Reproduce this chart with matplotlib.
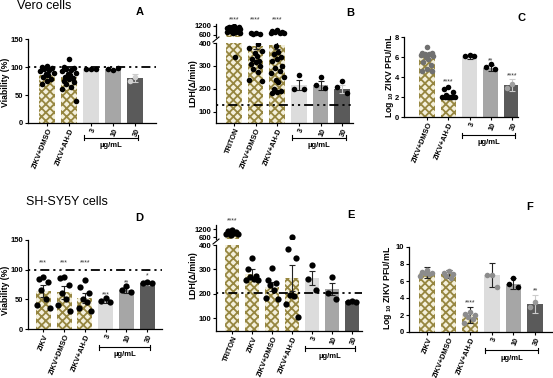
import matplotlib.pyplot as plt
from matplotlib import transforms

plt.rcParams['font.family'] = ['Liberation Sans', 'DejaVu Sans']
plt.rcParams['hatch.linewidth'] = 1.3
plt.rcParams['mathtext.default'] = 'regular'

W, H = 553, 378
OLIVE = '#968640'
GREYS = {'g1': '#dcdcdc', 'g2': '#a6a6a6', 'g3': '#5a5a5a'}

# ---- panel A: Vero viability
a_labels = ['ZIKV+DMSO', 'ZIKV+AH-D', '3', '10', '30']
a_kinds = ['h', 'h', 'g1', 'g2', 'g3']
a_means = [86, 83, 95, 96, 81]
a_sem = [3, 5, 1, 1, 7]
a_pts = [[102, 100, 98, 97, 95, 92, 90, 88, 85, 82, 78, 75, 70],
         [115, 100, 98, 97, 95, 93, 90, 88, 85, 82, 80, 78, 75, 73, 70, 65, 60, 40],
         [97, 96, 97], [95, 97, 98], [82, 75]]
a_ptcol = ['k', 'k', 'k', 'k', '#d0d0d0']

# ---- panel B: Vero LDH
b_labels = ['TRITON', 'ZIKV+DMSO', 'ZIKV+AH-D', '3', '10', '30']
b_kinds = ['h', 'h', 'h', 'g1', 'g2', 'g3']
b_means = [1000, 388, 390, 215, 215, 200]
b_sem = [0, 15, 18, 22, 18, 16]
b_pts = [[1150, 1120, 1100, 1080, 1050, 1020, 1000, 980, 950, 920, 900, 870,
          850, 820, 800, 780, 750, 720, 700, 340],
         [700, 680, 650, 660, 395, 380, 365, 355, 345, 330, 320, 318, 310, 300,
          285, 275, 240, 235],
         [900, 850, 800, 760, 720, 700, 680, 385, 360, 350, 340, 330, 320, 300,
          290, 280, 270, 250, 240, 230, 200, 190, 185, 180],
         [260, 200, 200], [250, 215, 205], [235, 210, 180]]
b_ptcol = ['k'] * 6
b_stars = {0: '****', 1: '****', 2: '****'}
b_line = 130

# ---- panel C: Vero titre
c_labels = ['ZIKV+DMSO', 'ZIKV+AH-D', '3', '10', '30']
c_kinds = ['h', 'h', 'g1', 'g2', 'g3']
c_means = [6.3, 2.0, 6.0, 4.9, 3.2]
c_sem = [0.15, 0.1, 0.15, 0.3, 0.6]
c_pts = [[7.0, 6.4, 6.4, 6.3, 6.3, 6.2, 6.1, 6.0, 5.8, 5.5, 5.2, 4.8, 4.6, 4.6],
         [3.0, 2.8, 2.5, 2.2, 2.0, 2.0, 2.0, 2.0, 2.0, 2.0, 2.0, 2.0],
         [6.2, 6.1, 6.1], [5.3, 5.0, 4.8], [3.3, 2.9]]
c_ptcol = ['#707070', 'k', 'k', 'k', '#a0a0a0']
c_stars = {1: ('****', 3.5), 3: ('**', 5.6), 4: ('****', 4.1)}

# ---- panel D: SH-SY5Y viability
d_labels = ['ZIKV', 'ZIKV+DMSO', 'ZIKV+AH-D', '3', '10', '30']
d_kinds = ['h', 'h', 'h', 'g1', 'g2', 'g3']
d_means = [64, 62, 52, 47, 65, 77]
d_sem = [10, 11, 9, 4, 5, 2]
d_pts = [[88, 85, 80, 65, 50, 40, 35], [88, 86, 75, 60, 50, 40, 30],
         [82, 70, 60, 50, 45, 35, 30], [52, 48, 45], [72, 65, 62], [80, 78, 77]]
d_ptcol = ['k'] * 6
d_stars = {0: ('***', 112), 1: ('***', 112), 2: ('****', 112),
           3: ('***', 57), 4: ('**', 78), 5: ('*', 89)}

# ---- panel E: SH-SY5Y LDH
e_labels = ['TRITON', 'ZIKV', 'ZIKV+DMSO', 'ZIKV+AH-D', '3', '10', '30']
e_kinds = ['h', 'h', 'h', 'h', 'g1', 'g2', 'g3']
e_means = [1000, 280, 230, 265, 265, 220, 170]
e_sem = [0, 20, 20, 52, 30, 25, 3]
e_pts = [[1100, 1050, 1000, 950, 900, 850, 800, 750],
         [345, 300, 275, 268, 262, 258, 255],
         [305, 258, 245, 235, 215, 185, 180],
         [600, 385, 345, 195, 190, 160, 105],
         [320, 260, 215], [270, 205, 180], [170, 168, 165]]
e_ptcol = ['k'] * 7
e_stars = {0: '****'}
e_line = 205

# ---- panel F: SH-SY5Y titre
f_labels = ['ZIKV', 'ZIKV+DMSO', 'ZIKV+AH-D', '3', '10', '30']
f_kinds = ['h', 'h', 'h', 'g1', 'g2', 'g3']
f_means = [7.0, 6.8, 2.0, 6.7, 5.7, 3.3]
f_err = [0.7, 0.5, 0.9, 1.4, 0.6, 1.1]
f_pts = [[7.3, 7.1, 7.0, 6.9, 6.8, 6.6], [7.2, 7.0, 6.8, 6.6, 6.3],
         [2.3, 2.1, 2.0, 1.8, 1.5, 1.1], [6.7, 6.7, 5.3], [6.3, 5.6, 5.3], [3.5, 3.0]]
f_ptcol = ['#8c8c8c', '#8c8c8c', '#8c8c8c', '#8c8c8c', 'k', '#9a9a9a']
f_stars = {2: ('****', 3.4), 5: ('**', 4.8)}

OFFS = [0, -0.22, 0.22, -0.11, 0.11, -0.3, 0.3, -0.05, 0.05, -0.17, 0.17]

fig = plt.figure(figsize=(W / 100, H / 100), dpi=100)


def make_ax(x0, y0, x1, y1):
    ax = fig.add_axes([x0 / W, 1 - y1 / H, (x1 - x0) / W, (y1 - y0) / H])
    for s in ['top', 'right']:
        ax.spines[s].set_visible(False)
    for s in ['left', 'bottom']:
        ax.spines[s].set_linewidth(0.9)
    ax.tick_params(length=2.5, width=0.8, pad=1)
    return ax


def draw(ax, means, errs, kinds, pts, ptcol, ms, lo=None):
    for i, m in enumerate(means):
        if lo is not None and m < lo:
            pass
        elif kinds[i] == 'h':
            ax.bar(i, m, 0.72, color='#f4f0dc', edgecolor=OLIVE, hatch='xxxx', lw=0)
        else:
            ax.bar(i, m, 0.72, color=GREYS[kinds[i]], lw=0)
        if errs[i] and lo is None:
            ax.errorbar(i, m, yerr=errs[i], color='#222222' if kinds[i] != 'g3' else '#cccccc',
                        lw=0.8, capsize=2, capthick=0.8)
        vals = pts[i]
        xs = [i + OFFS[k % len(OFFS)] for k in range(len(vals))]
        if lo is not None:
            keep = [k for k, v in enumerate(vals) if v >= lo]
            xs = [xs[k] for k in keep]
            vals = [vals[k] for k in keep]
        if vals:
            ax.plot(xs, vals, 'o', color=ptcol[i], ms=ms, mew=0)


def yfmt(ax):
    ax.tick_params(axis='y', labelsize=5.5)
    for t in ax.get_yticklabels():
        t.set_fontweight('bold')


def xaxis(ax, labels, xlim):
    ax.set_xlim(*xlim)
    ax.set_xticks(range(len(labels)))
    ax.set_xticklabels(labels, rotation=68, ha='right', rotation_mode='anchor',
                       fontsize=5.3, fontweight='bold')
    ax.tick_params(axis='x', length=2)


def bracket(ax, x0, x1, h, dy):
    tr = transforms.blended_transform_factory(ax.transData, ax.transAxes)
    y = -dy / h
    ax.plot([x0, x1], [y, y], color='k', lw=0.8, transform=tr, clip_on=False)
    for x in (x0, x1):
        ax.plot([x, x], [y - 2.5 / h, y + 2.5 / h], color='k', lw=0.8,
                transform=tr, clip_on=False)
    ax.text((x0 + x1) / 2, y - 8 / h, 'µg/mL', transform=tr, ha='center',
            va='center', fontsize=5.5, fontweight='bold')


def stars(ax, items):
    for i, (s, y) in items.items():
        ax.text(i, y, s, ha='center', va='center', fontsize=5, color='#333333')


def hline(ax, y):
    ax.axhline(y, color='k', lw=1.3, ls=(0, (1.2, 2.2, 1.2, 2.2, 5, 2.2)), zorder=5)


def ylab(x, y, s):
    fig.text(x / W, 1 - y / H, s, rotation=90, ha='center', va='center',
             fontsize=6.2, fontweight='bold')


def letter(x, y, s):
    fig.text(x / W, 1 - y / H, s, ha='center', va='center', fontsize=8, fontweight='bold')


def broken(box_top, box_bot, xlim, top_lim, bot_lim, means, errs, kinds, pts, ptcol, ms, top_stars):
    top = make_ax(*box_top)
    bot = make_ax(*box_bot)
    draw(bot, means, errs, kinds, pts, ptcol, ms)
    draw(top, means, errs, kinds, pts, ptcol, ms, lo=top_lim[0])
    top.set_xlim(*xlim)
    top.set_ylim(*top_lim)
    top.set_yticks([600, 1200])
    top.spines['bottom'].set_visible(False)
    top.set_xticks([])
    bot.set_ylim(*bot_lim)
    bot.set_yticks([100, 200, 300, 400])
    yfmt(top)
    yfmt(bot)
    tr = transforms.blended_transform_factory(top.transData, top.transAxes)
    for i, s in top_stars.items():
        top.text(i, 1.3, s, transform=tr, ha='center', va='center', fontsize=5, color='#333333')
    # break mark on the left spine
    hb = box_bot[3] - box_bot[1]
    wb = box_bot[2] - box_bot[0]
    bot.plot([-3 / wb, 3 / wb], [1 + 1 / hb, 1 + 6 / hb], color='k', lw=0.8,
             transform=bot.transAxes, clip_on=False)
    return top, bot


# A
ax = make_ax(28, 39, 156, 123)
draw(ax, a_means, a_sem, a_kinds, a_pts, a_ptcol, 4)
ax.set_ylim(0, 150)
ax.set_yticks([0, 50, 100, 150])
yfmt(ax)
hline(ax, 100)
xaxis(ax, a_labels, (-0.86, 4.96))
bracket(ax, 1.67, 4.15, 84, 15)

# B
top, bot = broken((216, 24, 353, 37), (216, 43, 353, 123), (-0.83, 5.5),
                  (450, 1300), (51, 400), b_means, b_sem, b_kinds, b_pts, b_ptcol, 4, b_stars)
hline(bot, b_line)
xaxis(bot, b_labels, (-0.83, 5.5))
bracket(bot, 2.67, 5.18, 80, 15)

# C
ax = make_ax(404, 37, 518, 117)
draw(ax, c_means, c_sem, c_kinds, c_pts, c_ptcol, 4)
ax.set_ylim(0, 8)
ax.set_yticks([0, 2, 4, 6, 8])
yfmt(ax)
xaxis(ax, c_labels, (-1.08, 4.28))
stars(ax, c_stars)
bracket(ax, 1.67, 4.15, 80, 18)

# D
ax = make_ax(28, 240, 162, 329)
draw(ax, d_means, d_sem, d_kinds, d_pts, d_ptcol, 4.5)
ax.set_ylim(0, 150)
ax.set_yticks([0, 50, 100, 150])
yfmt(ax)
hline(ax, 100)
xaxis(ax, d_labels, (-0.74, 5.72))
stars(ax, d_stars)
bracket(ax, 2.67, 5.15, 89, 18)

# E
top, bot = broken((216, 225, 362, 239), (216, 245, 362, 331), (-0.8, 6.5),
                  (450, 1500), (48, 400), e_means, e_sem, e_kinds, e_pts, e_ptcol, 4.5, e_stars)
hline(bot, e_line)
xaxis(bot, e_labels, (-0.8, 6.5))
bracket(bot, 3.67, 6.15, 86, 17)

# F
ax = make_ax(409, 247, 553, 332)
draw(ax, f_means, f_err, f_kinds, f_pts, f_ptcol, 4)
ax.set_ylim(0, 10)
ax.set_yticks([0, 2, 4, 6, 8, 10])
yfmt(ax)
xaxis(ax, f_labels, (-0.83, 5.83))
stars(ax, f_stars)
bracket(ax, 2.67, 5.15, 85, 18)

ylab(6, 82, 'Viability (%)')
ylab(6, 290, 'Viability (%)')
ylab(193, 83, 'LDH(Δ/min)')
ylab(193, 275, 'LDH(Δ/min)')
ylab(389, 76, 'Log $_{10}$ ZIKV PFU/mL')
ylab(387, 288, 'Log $_{10}$ ZIKV PFU/mL')

fig.text(17 / W, 1 - 6 / H, 'Vero cells', fontsize=9, va='center')
fig.text(26 / W, 1 - 202 / H, 'SH-SY5Y cells', fontsize=9, va='center')
letter(140, 12, 'A')
letter(350, 13, 'B')
letter(522, 18, 'C')
letter(139, 218, 'D')
letter(351, 215, 'E')
letter(530, 207, 'F')

fig.savefig('out.png', dpi=100)
